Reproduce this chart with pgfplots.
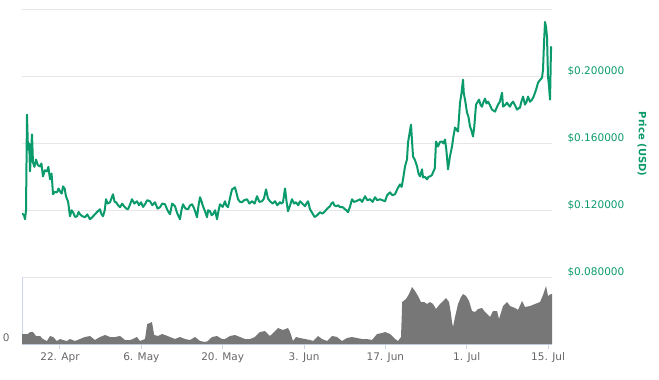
\documentclass[border=0pt]{standalone}
\usepackage{pgfplots}
\pgfplotsset{compat=1.18}
\usepackage{fontspec}
\setmainfont{DejaVu Sans}
\definecolor{pricegreen}{HTML}{0A9A6C}
\definecolor{gridgray}{HTML}{E6E6E6}
\definecolor{axisblue}{HTML}{CCD6EB}
\definecolor{labelgray}{HTML}{666666}
\definecolor{volgray}{HTML}{777777}
\newcommand{\lblfont}{\fontsize{10.5bp}{12bp}\selectfont}
\begin{document}
\begin{tikzpicture}[x=1bp,y=1bp]
\path[use as bounding box] (0,0) rectangle (659,379);
% ---------------- price panel ----------------
\begin{axis}[
  at={(22bp,102bp)}, anchor=south west, scale only axis,
  width=530bp, height=267bp,
  xmin=-6.54, xmax=84.68, ymin=0.08, ymax=0.24,
  axis line style={draw=none},
  xtick=\empty,
  ytick={0.08,0.12,0.16,0.20,0.24},
  yticklabels={\$0.080000,\$0.120000,\$0.160000,\$0.200000,},
  yticklabel pos=right,
  ymajorgrids, major grid style={gridgray, line width=1bp},
  major tick length=0pt,
  yticklabel style={font=\lblfont, text=pricegreen, anchor=west, xshift=12bp, yshift=5bp},
  scaled y ticks=false,
]
\addplot[pricegreen, line width=2bp, line join=round] coordinates {
(-6.54,0.1182) (-6.2,0.1170) (-6.02,0.1146) (-5.85,0.1200) (-5.68,0.1773) (-5.51,0.1564)
(-5.3,0.1600) (-5.16,0.1433) (-4.82,0.1654) (-4.65,0.1487) (-4.4,0.1460) (-4.13,0.1504)
(-3.8,0.1470) (-3.44,0.1463) (-3.2,0.1480) (-2.93,0.1403) (-2.6,0.1440) (-2.24,0.1433)
(-2.0,0.1460) (-1.72,0.1385) (-1.45,0.1420) (-1.20,0.1296) (-0.9,0.1310) (-0.52,0.1307)
(-0.25,0.1330) (0,0.1313) (0.3,0.1300) (0.52,0.1343) (0.8,0.1330) (1.03,0.1284)
(1.4,0.1250) (1.72,0.1164) (2.0,0.1200) (2.24,0.1188) (2.6,0.1160) (2.93,0.1164)
(3.2,0.1190) (3.44,0.1176) (3.8,0.1165) (4.30,0.1158) (4.7,0.1175) (5.16,0.1146)
(5.6,0.1160) (6.02,0.1176) (6.4,0.1190) (6.88,0.1206) (7.1,0.1180) (7.40,0.1164)
(7.7,0.1200) (7.92,0.1266) (8.2,0.1240) (8.61,0.1248) (9.12,0.1296) (9.4,0.1250)
(9.64,0.1248) (10.0,0.1230) (10.33,0.1218) (10.7,0.1240) (11.02,0.1224) (11.4,0.1210)
(11.70,0.1206) (12.0,0.1230) (12.39,0.1266) (12.8,0.1240) (13.25,0.1254) (13.6,0.1230)
(13.94,0.1248) (14.3,0.1220) (14.63,0.1236) (15.0,0.1260) (15.49,0.1254) (15.9,0.1230)
(16.35,0.1248) (16.8,0.1210) (17.21,0.1218) (17.6,0.1240) (18.07,0.1236) (18.5,0.1200)
(18.93,0.1176) (19.3,0.1240) (19.79,0.1224) (20.2,0.1180) (20.65,0.1146) (20.9,0.1200)
(21.17,0.1236) (21.6,0.1210) (22.03,0.1206) (22.4,0.1230) (22.72,0.1236) (23.1,0.1210)
(23.58,0.1158) (23.85,0.1230) (24.10,0.1278) (24.3,0.1260) (24.61,0.1224) (25.0,0.1190)
(25.30,0.1158) (25.5,0.1200) (25.82,0.1194) (26.1,0.1170) (26.33,0.1176) (26.7,0.1200)
(27.02,0.1146) (27.3,0.1200) (27.54,0.1236) (28.0,0.1220) (28.40,0.1254) (28.6,0.1230)
(28.92,0.1218) (29.3,0.1280) (29.60,0.1325) (30.12,0.1337) (30.4,0.1300) (30.64,0.1266)
(31.0,0.1250) (31.33,0.1248) (31.7,0.1260) (32.19,0.1266) (32.6,0.1240) (33.05,0.1254)
(33.5,0.1240) (33.91,0.1284) (34.3,0.1250) (34.77,0.1254) (35.1,0.1270) (35.46,0.1325)
(35.8,0.1270) (36.14,0.1254) (36.6,0.1240) (37.01,0.1254) (37.4,0.1230) (37.87,0.1248)
(38.1,0.1240) (38.38,0.1248) (38.73,0.1331) (39.0,0.1250) (39.24,0.1194) (39.6,0.1230)
(39.93,0.1266) (40.3,0.1240) (40.62,0.1248) (41.0,0.1230) (41.31,0.1254) (41.7,0.1240)
(42.17,0.1224) (42.4,0.1240) (42.69,0.1254) (43.03,0.1206) (43.3,0.1190) (43.55,0.1176)
(43.8,0.1160) (44.06,0.1164) (44.4,0.1175) (44.75,0.1188) (45.2,0.1180) (45.61,0.1194)
(46.0,0.1210) (46.47,0.1224) (46.7,0.1240) (46.99,0.1248) (47.2,0.1230) (47.50,0.1224)
(47.9,0.1230) (48.19,0.1218) (48.6,0.1220) (49.05,0.1206) (49.3,0.1200) (49.57,0.1188)
(49.9,0.1220) (50.26,0.1266) (50.6,0.1250) (50.95,0.1254) (51.3,0.1260) (51.64,0.1266)
(52.0,0.1250) (52.50,0.1284) (52.9,0.1260) (53.36,0.1266) (53.8,0.1250) (54.22,0.1278)
(54.6,0.1260) (55.08,0.1266) (55.5,0.1260) (55.94,0.1254) (56.3,0.1290) (56.80,0.1307)
(57.2,0.1290) (57.66,0.1296) (58.1,0.1330) (58.52,0.1355) (58.8,0.1340) (59.04,0.1385)
(59.38,0.1463) (59.72,0.1504) (59.90,0.1606) (60.41,0.1713) (60.76,0.1522) (61.1,0.1500)
(61.45,0.1463) (61.7,0.1420) (61.96,0.1403) (62.31,0.1445) (62.48,0.1397) (62.8,0.1400)
(63.17,0.1385) (63.4,0.1400) (63.68,0.1403) (64.0,0.1410) (64.20,0.1427) (64.5,0.1450)
(64.72,0.1612) (65.06,0.1582) (65.4,0.1610) (65.75,0.1612) (66.0,0.1600) (66.27,0.1624)
(66.5,0.1560) (66.78,0.1445) (67.1,0.1520) (67.47,0.1582) (67.7,0.1640) (67.99,0.1696)
(68.3,0.1680) (68.50,0.1672) (68.85,0.1845) (69.1,0.1900) (69.36,0.1982) (69.5,0.1900)
(69.71,0.1863) (70.05,0.1785) (70.3,0.1760) (70.57,0.1701) (70.8,0.1680) (71.08,0.1642)
(71.3,0.1700) (71.60,0.1833) (72.12,0.1863) (72.4,0.1830) (72.63,0.1821) (72.9,0.1850)
(73.15,0.1869) (73.4,0.1840) (73.67,0.1851) (74.0,0.1830) (74.35,0.1803) (74.87,0.1791)
(75.1,0.1810) (75.39,0.1833) (75.7,0.1850) (76.08,0.1904) (76.25,0.1821) (76.6,0.1830)
(76.94,0.1845) (77.2,0.1830) (77.45,0.1821) (77.7,0.1840) (77.97,0.1851) (78.3,0.1830)
(78.66,0.1803) (78.9,0.1810) (79.17,0.1815) (79.4,0.1850) (79.69,0.1881) (80.03,0.1833)
(80.3,0.1850) (80.55,0.1881) (80.9,0.1850) (81.24,0.1863) (81.5,0.1880) (81.76,0.1904)
(82.0,0.1930) (82.27,0.1964) (82.6,0.1980) (82.96,0.1994) (83.13,0.2042) (83.3,0.2200)
(83.48,0.2328) (83.65,0.2300) (83.82,0.2239) (83.99,0.2000) (84.15,0.1950) (84.34,0.1863)
(84.51,0.2179) (84.6,0.2150)
};
\end{axis}
% ---------------- volume panel ----------------
\begin{axis}[
  at={(22bp,35bp)}, anchor=south west, scale only axis,
  width=530bp, height=67bp,
  xmin=-6.54, xmax=84.68, ymin=0, ymax=67,
  axis x line=bottom, axis y line=left,
  axis line style={axisblue, line width=1bp, -},
  xtick={0,14,28,42,56,70,84},
  xticklabels={22. Apr,6. May,20. May,3. Jun,17. Jun,1. Jul,15. Jul},
  tick align=outside, major tick length=5bp,
  xtick style={axisblue, line width=1bp},
  xticklabel style={font=\lblfont, text=labelgray},
  ytick={0}, yticklabels={0},
  ytick style={draw=none},
  yticklabel style={font=\lblfont, text=labelgray, xshift=-4bp, yshift=6bp},
]
\addplot[volgray, fill=volgray, draw=none] coordinates {
(-6.54,10) (-6.02,10) (-5.51,10) (-5.16,12) (-4.65,12) (-4.13,8) (-3.44,8) (-2.93,5)
(-2.24,3) (-1.72,8) (-1.20,7) (-0.52,3) (0,5) (0.52,4) (1.20,3) (1.72,5) (2.58,3)
(3.44,5) (4.30,7) (5.16,8) (6.02,4) (6.88,7) (7.75,9) (8.61,7) (9.47,7) (10.33,8)
(11.19,4) (12.05,4) (12.56,5) (13.25,7) (13.77,3) (14.63,5) (15.0,20) (15.49,21)
(15.83,22) (16.2,9) (16.87,8) (17.56,10) (18.07,9) (18.93,7) (19.79,5) (20.65,7)
(21.51,5) (22.38,4) (23.24,7) (24.10,3) (24.96,2) (25.47,3) (26.16,7) (27.02,8)
(27.88,5) (28.40,5) (29.26,8) (30.12,9) (30.98,7) (31.84,5) (32.70,5) (33.56,7)
(34.42,12) (35.28,13) (36.14,8) (37.01,13) (37.52,16) (38.38,14) (39.24,16) (39.59,12)
(40.10,3) (40.62,7) (41.31,6) (42.17,5) (43.03,4) (43.55,3) (44.41,8) (45.09,5)
(45.96,3) (46.82,8) (47.68,7) (48.54,3) (49.40,6) (50.26,7) (51.12,6) (51.98,5)
(52.84,5) (53.70,4) (54.56,10) (55.42,11) (55.94,12) (56.80,10) (57.66,5) (58.18,3)
(58.69,7) (58.9,42) (59.55,45) (60.07,50) (60.59,57) (61.10,53) (61.62,48) (62.13,42)
(62.65,42) (63.17,40) (63.68,42) (64.20,40) (64.72,35) (65.40,40) (65.92,43) (66.44,46)
(66.95,42) (67.30,30) (67.47,22) (67.64,17) (67.99,27) (68.50,40) (69.02,47) (69.36,50)
(69.88,48) (70.40,43) (70.91,33) (71.43,32) (71.94,35) (72.63,36) (73.15,32) (74.01,27)
(74.53,33) (75.22,33) (75.56,25) (76.25,38) (76.94,42) (77.45,38) (78.31,36) (78.83,34)
(79.52,43) (80.03,37) (80.89,38) (81.76,40) (82.62,42) (83.13,49) (83.65,58) (83.99,48)
(84.51,50) (84.68,50)
} \closedcycle;
\end{axis}
\node[rotate=-90, font=\bfseries\fontsize{10bp}{12bp}\selectfont, text=pricegreen] at (642,235) {Price (USD)};
\end{tikzpicture}
\end{document}
